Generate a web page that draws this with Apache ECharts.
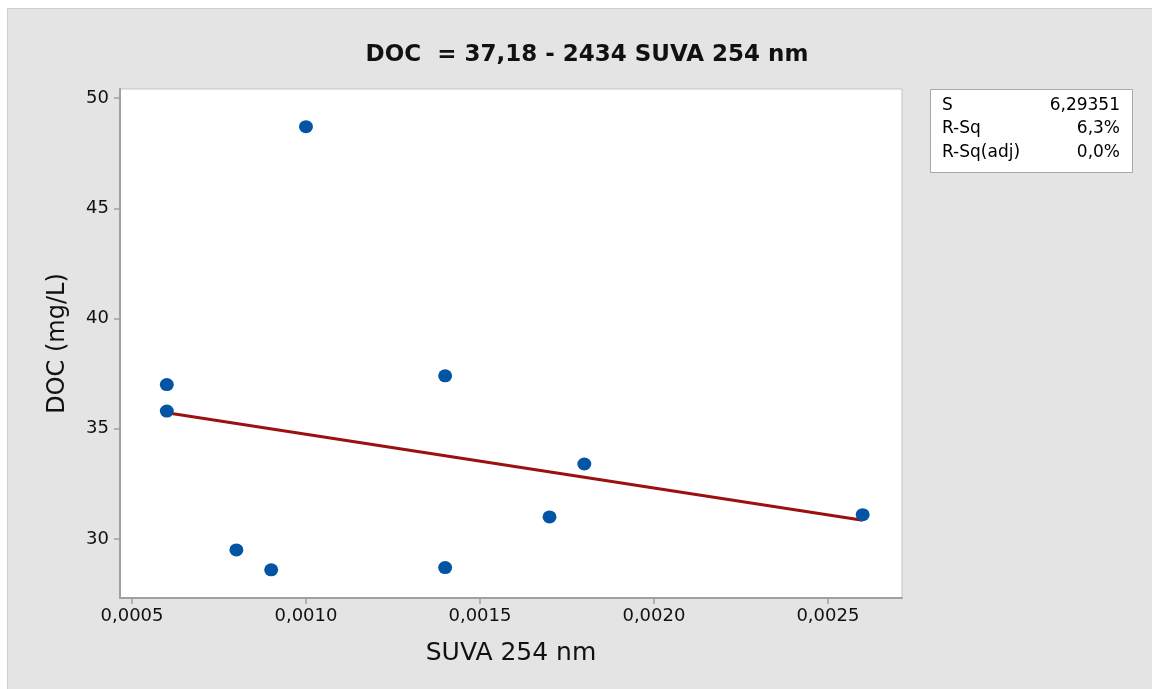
<!DOCTYPE html>
<html>
<head>
<meta charset="utf-8">
<script src="https://cdn.jsdelivr.net/npm/echarts@6/dist/echarts.min.js"></script>
<style>
  html, body { margin: 0; padding: 0; background: #ffffff; }
  #wrap { position: relative; width: 1152px; height: 689px; overflow: hidden; }
  #panel { position: absolute; left: 7px; top: 8px; width: 1145px; height: 681px;
           background: #e4e4e4; border-top: 1px solid #cfcfcf; border-left: 1px solid #cfcfcf; }
  #chart { position: absolute; left: 0; top: 0; width: 1152px; height: 689px; }
</style>
</head>
<body>
<div id="wrap">
  <div id="panel"></div>
  <div id="chart"></div>
</div>
<script>
// Observations: SUVA 254 nm vs DOC (mg/L)
const suva = [0.0006, 0.0006, 0.0008, 0.0009, 0.0010, 0.0014, 0.0014, 0.0017, 0.0018, 0.0026];
const doc  = [37.0,   35.8,   29.5,   28.6,   48.7,   37.4,   28.7,   31.0,   33.4,   31.1];

// Fitted line endpoints: DOC = 37,18 - 2434 SUVA 254 nm
const fitX = [0.0006, 0.0026];
const fitY = [35.72, 30.85];

// Axis tick values
const xTicks = [0.0005, 0.0010, 0.0015, 0.0020, 0.0025];
const yTicks = [30, 35, 40, 45, 50];

// Model summary rows
const statNames  = ['S', 'R-Sq', 'R-Sq(adj)'];
const statValues = ['6,29351', '6,3%', '0,0%'];

const FONT = '"DejaVu Sans", "Noto Sans", sans-serif';

const chart = echarts.init(document.getElementById('chart'), null, { renderer: 'canvas' });

const statGraphics = [
  { type: 'rect', left: 930, top: 89, shape: { width: 202, height: 83 },
    style: { fill: '#ffffff', stroke: '#a8a8a8', lineWidth: 1 } }
];
statNames.forEach((n, i) => {
  statGraphics.push({ type: 'text', left: 942, top: 97 + i * 23.5,
    style: { text: n, font: '17px ' + FONT, fill: '#000' } });
  statGraphics.push({ type: 'text', right: 1152 - 1120, top: 97 + i * 23.5,
    style: { text: statValues[i], font: '17px ' + FONT, fill: '#000', textAlign: 'right' } });
});

const fmt = v => v.toFixed(4).replace('.', ',');

chart.setOption({
  animation: false,
  textStyle: { fontFamily: FONT },
  title: {
    text: 'DOC  = 37,18 - 2434 SUVA 254 nm',
    left: 582, top: 39, textAlign: 'center',
    textStyle: { fontFamily: FONT, fontSize: 23, fontWeight: 'bold', color: '#111' }
  },
  grid: {
    left: 120, top: 89, width: 782, height: 509,
    show: true, backgroundColor: '#ffffff', borderColor: '#c4c4c4', borderWidth: 1
  },
  xAxis: {
    type: 'value', min: 0.0004655, max: 0.002713,
    name: 'SUVA 254 nm', nameLocation: 'middle', nameGap: 43,
    nameTextStyle: { fontFamily: FONT, fontSize: 25, color: '#111' },
    axisLine: { show: true, lineStyle: { color: '#a0a0a0', width: 2 } },
    axisTick: { show: true, length: 6, lineStyle: { color: '#a0a0a0', width: 1.5 }, customValues: xTicks },
    axisLabel: { fontFamily: FONT, fontSize: 18, color: '#111', margin: 9, customValues: xTicks, formatter: fmt },
    splitLine: { show: false }
  },
  yAxis: {
    type: 'value', min: 27.32, max: 50.41,
    name: 'DOC (mg/L)', nameLocation: 'middle', nameGap: 50,
    nameTextStyle: { fontFamily: FONT, fontSize: 24, color: '#111' },
    axisLine: { show: true, lineStyle: { color: '#a0a0a0', width: 2 } },
    axisTick: { show: true, length: 6, lineStyle: { color: '#a0a0a0', width: 1.5 }, customValues: yTicks },
    axisLabel: { fontFamily: FONT, fontSize: 18, color: '#111', margin: 11, customValues: yTicks },
    splitLine: { show: false }
  },
  graphic: statGraphics,
  series: [
    {
      type: 'line',
      data: fitX.map((x, i) => [x, fitY[i]]),
      showSymbol: false,
      lineStyle: { color: '#9b1111', width: 3 },
      z: 2
    },
    {
      type: 'scatter',
      data: suva.map((x, i) => [x, doc[i]]),
      symbol: 'circle',
      symbolSize: [14, 13],
      itemStyle: { color: '#0454a6', opacity: 1 },
      z: 3
    }
  ]
});
</script>
</body>
</html>
